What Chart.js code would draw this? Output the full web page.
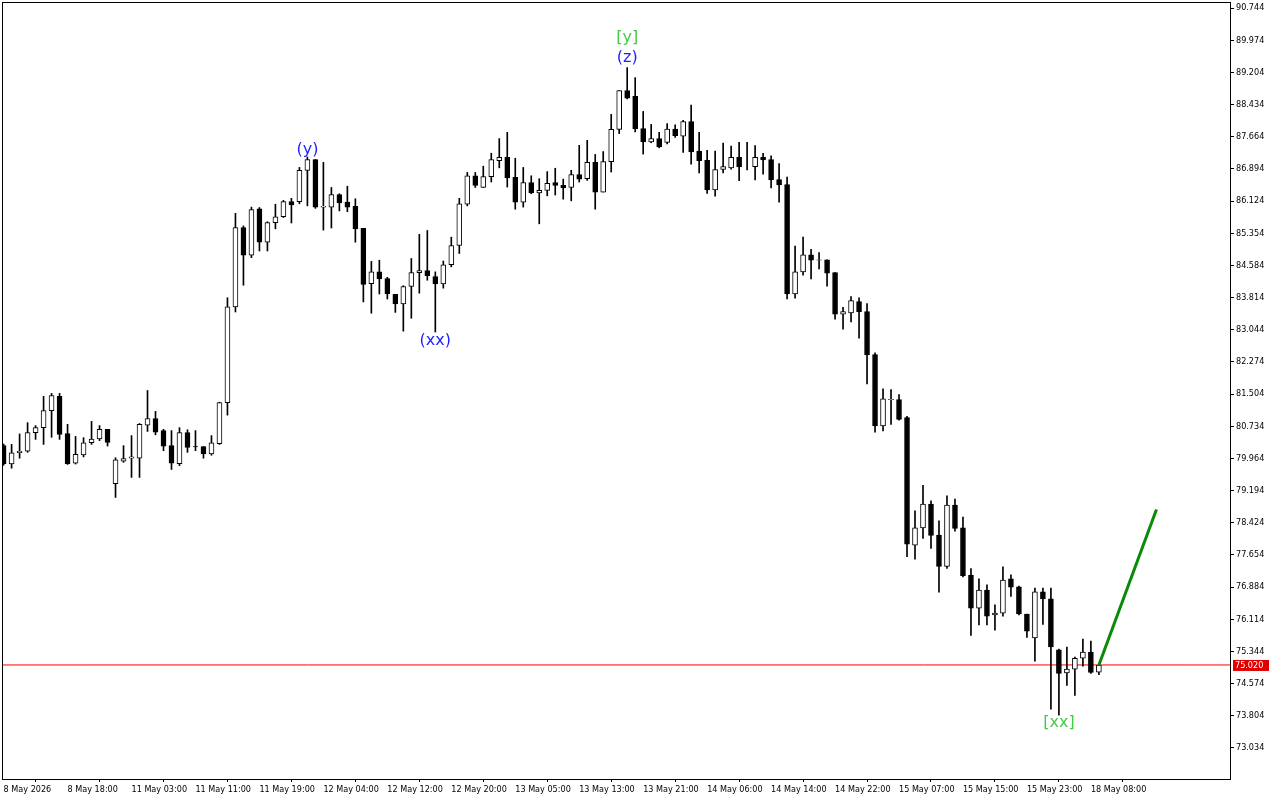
<!DOCTYPE html>
<html>
<head>
<meta charset="utf-8">
<script src="https://cdn.jsdelivr.net/npm/chart.js@4"></script>
<style>
  html, body { margin: 0; padding: 0; background: #fff; }
  canvas { display: block; }
</style>
</head>
<body>
<canvas id="grafico" width="1280" height="800"></canvas>
<script>
// hourly candles, open / high / low / close
const abertura = [80.27,79.83,80.10,80.14,80.58,80.70,81.11,81.45,80.56,79.85,80.05,80.34,80.43,80.66,79.36,79.90,79.97,79.97,80.76,80.92,
  80.63,80.27,79.84,80.58,80.25,80.25,80.07,80.32,81.30,83.59,85.49,84.83,85.94,85.14,85.61,85.75,86.11,86.11,86.86,87.12,
  85.98,85.98,86.28,86.10,86.00,85.47,84.15,84.43,84.27,83.89,83.66,84.08,84.41,84.46,84.32,84.14,84.60,85.06,86.05,86.73,
  86.45,86.71,87.09,87.17,86.69,86.10,86.57,86.32,86.38,86.57,86.50,86.45,86.76,86.66,87.05,86.34,87.07,87.84,88.77,88.63,
  87.86,87.54,87.62,87.53,87.85,87.68,88.03,87.32,87.10,86.39,86.88,86.92,87.17,86.95,86.95,87.17,87.12,86.64,86.52,83.90,
  84.43,84.84,84.71,84.72,84.41,83.42,83.45,83.72,83.48,82.45,80.74,81.37,81.37,80.94,77.89,78.30,78.87,78.13,77.38,78.85,
  78.30,77.17,76.38,76.81,76.22,76.26,77.08,76.89,76.24,75.67,76.77,76.60,75.38,74.83,74.92,75.18,75.33,74.85];
const maxima = [80.31,80.30,80.55,80.82,80.75,81.45,81.52,81.52,80.78,80.49,80.46,80.85,80.75,80.66,79.98,80.27,80.51,80.80,81.59,81.09,
  80.66,80.63,80.70,80.65,80.63,80.25,80.51,81.31,83.81,85.83,85.53,85.98,85.97,85.63,86.05,86.14,86.19,86.93,87.18,87.12,
  87.05,86.45,86.30,86.48,86.18,85.47,84.68,84.71,84.30,83.89,84.10,84.75,85.33,85.42,84.43,84.69,85.26,86.19,86.81,86.81,
  86.96,87.27,87.62,87.77,87.15,86.93,86.73,86.66,86.83,86.91,86.65,86.86,87.46,87.58,87.24,87.31,88.20,88.77,89.32,89.08,
  88.27,87.96,87.77,87.98,87.95,88.06,88.42,87.77,87.34,87.32,87.51,87.44,87.53,87.53,87.45,87.27,87.21,87.02,86.70,85.05,
  85.26,84.97,84.89,84.72,84.41,83.58,83.84,83.81,83.67,82.49,81.63,81.61,81.49,80.97,78.71,79.32,78.95,78.47,79.07,78.99,
  78.56,77.33,77.08,76.94,76.46,77.37,77.18,76.91,76.24,76.86,76.86,76.86,75.40,75.45,75.21,75.64,75.59,75.04];
const minimas = [79.80,79.73,79.97,80.11,80.42,80.30,80.47,80.42,79.82,79.83,80.00,80.30,80.39,80.26,79.03,79.87,79.51,79.51,80.61,80.53,
  80.15,79.70,79.79,80.11,80.15,79.97,80.04,80.30,81.00,83.47,84.11,84.77,84.93,84.93,85.46,85.73,85.60,86.06,86.01,85.95,
  85.43,85.48,85.89,85.87,85.14,83.71,83.44,83.90,83.78,83.46,83.01,83.32,83.92,84.23,82.99,84.04,84.55,84.87,86.01,86.45,
  86.45,86.58,86.92,86.46,85.93,85.98,86.30,85.58,86.25,86.27,86.17,86.13,86.58,86.62,85.93,86.34,86.82,87.74,88.57,87.78,
  87.25,87.52,87.40,87.49,87.65,87.29,87.01,86.80,86.31,86.24,86.80,86.89,86.61,86.87,86.63,86.77,86.44,86.10,83.78,83.80,
  84.35,84.26,84.50,84.09,83.30,83.06,83.23,82.84,81.75,80.59,80.62,80.78,80.88,77.61,77.55,78.05,77.81,76.76,77.33,78.22,
  77.13,75.73,75.98,75.98,75.85,76.19,76.66,76.22,75.68,75.11,75.99,73.96,73.82,74.53,74.29,74.99,74.82,74.79];
const fechamento = [79.84,80.10,80.14,80.58,80.70,81.11,81.47,80.54,79.84,80.06,80.34,80.43,80.66,80.35,79.93,79.96,80.00,80.78,80.92,80.59,
  80.26,79.85,80.58,80.23,80.24,80.07,80.34,81.30,83.59,85.49,84.83,85.92,85.14,85.61,85.75,86.11,86.03,86.86,87.12,85.98,
  86.00,86.28,86.08,85.98,85.46,84.13,84.43,84.26,83.90,83.66,84.08,84.41,84.46,84.34,84.14,84.60,85.06,86.06,86.73,86.50,
  86.71,87.12,87.17,86.68,86.10,86.57,86.32,86.38,86.55,86.50,86.44,86.76,86.65,87.05,86.34,87.07,87.84,88.77,88.59,87.85,
  87.54,87.62,87.42,87.85,87.69,88.03,87.30,87.09,86.39,86.88,86.95,87.17,86.94,86.95,87.17,87.11,86.63,86.51,83.90,84.43,
  84.84,84.71,84.72,84.40,83.42,83.48,83.74,83.48,82.44,80.74,81.39,81.38,80.90,77.91,78.30,78.87,78.12,77.38,78.85,78.29,
  77.16,76.38,76.81,76.19,76.26,77.05,76.88,76.24,75.83,76.77,76.60,75.45,74.82,74.92,75.18,75.33,74.84,75.02];

const rotulosTempo = ['8 May 2026','8 May 18:00','11 May 03:00','11 May 11:00','11 May 19:00','12 May 04:00','12 May 12:00',
  '12 May 20:00','13 May 05:00','13 May 13:00','13 May 21:00','14 May 06:00','14 May 14:00','14 May 22:00','15 May 07:00',
  '15 May 15:00','15 May 23:00','18 May 08:00'];
const passoRotulo = 8;

const ticksPreco = [73.034,73.804,74.574,75.344,76.114,76.884,77.654,78.424,79.194,79.964,80.734,81.504,82.274,83.044,
  83.814,84.584,85.354,86.124,86.894,87.664,88.434,89.204,89.974,90.744];

const precoAtual = 75.020;
// projected wave line: [candle index, price]
const projecao = [[137, 75.02], [144.2, 78.74]];
// wave marks: candle index, price, text, colour
const ondas = [
  { idx: 38, preco: 87.35, texto: '(y)', cor: '#1f1fff' },
  { idx: 54, preco: 82.79, texto: '(xx)', cor: '#1f1fff' },
  { idx: 78, preco: 89.55, texto: '(z)', cor: '#1f1fff' },
  { idx: 78, preco: 90.03, texto: '[y]', cor: '#44cc44' },
  { idx: 132, preco: 73.64, texto: '[xx]', cor: '#44cc44' }
];

const corpos = abertura.map((o, i) => ({ x: i, y: [o, fechamento[i]] }));
const pavios = minimas.map((l, i) => ({ x: i, y: [l, maxima[i]] }));

const fonteEixo = { size: 9, family: '"DejaVu Sans Condensed", "DejaVu Sans"' };

const molduraPlugin = {
  id: 'moldura',
  afterDraw(chart) {
    const { ctx, chartArea: a, scales } = chart;
    ctx.save();
    ctx.strokeStyle = '#000';
    ctx.lineWidth = 1;
    ctx.strokeRect(a.left + 0.5, a.top + 0.5, a.right - a.left, a.bottom - a.top);

    // wave labels
    ctx.font = '16px "DejaVu Sans"';
    ctx.textAlign = 'center';
    ctx.textBaseline = 'middle';
    ondas.forEach(o => {
      ctx.fillStyle = o.cor;
      ctx.fillText(o.texto, scales.x.getPixelForValue(o.idx), scales.y.getPixelForValue(o.preco));
    });

    // current price tag
    const y = scales.y.getPixelForValue(precoAtual);
    ctx.fillStyle = '#e00000';
    ctx.fillRect(a.right + 3, y - 5, 36, 11);
    ctx.fillStyle = '#fff';
    ctx.font = '9px "DejaVu Sans Condensed", "DejaVu Sans"';
    ctx.textAlign = 'left';
    ctx.fillText(precoAtual.toFixed(3), a.right + 5, y + 0.5);
    ctx.restore();
  }
};

new Chart(document.getElementById('grafico'), {
  type: 'bar',
  data: {
    datasets: [
      {
        type: 'line',
        data: [{ x: -5, y: precoAtual }, { x: 200, y: precoAtual }],
        borderColor: '#ff0000',
        borderWidth: 1,
        pointRadius: 0,
        order: 3
      },
      {
        type: 'line',
        data: projecao.map(p => ({ x: p[0], y: p[1] })),
        borderColor: '#0a8a0a',
        borderWidth: 3,
        pointRadius: 0,
        order: 0
      },
      {
        data: corpos,
        backgroundColor: ctx => {
          const i = ctx.dataIndex;
          return fechamento[i] >= abertura[i] ? '#fff' : '#000';
        },
        borderColor: '#000',
        borderWidth: 1,
        borderSkipped: false,
        barThickness: 5,
        grouped: false,
        order: 1
      },
      {
        data: pavios,
        backgroundColor: '#000',
        borderWidth: 0,
        barThickness: 1,
        grouped: false,
        order: 2
      }
    ]
  },
  options: {
    responsive: false,
    animation: false,
    layout: { padding: { left: 2, top: 2, right: 0, bottom: 0 } },
    plugins: { legend: { display: false }, tooltip: { enabled: false } },
    scales: {
      x: {
        type: 'linear',
        min: -0.2,
        max: 153.4,
        offset: false,
        afterBuildTicks: s => { s.ticks = rotulosTempo.map((_, k) => ({ value: k * passoRotulo })); },
        afterFit: s => { s.height = 21; s.paddingLeft = 0; s.paddingRight = 0; },
        ticks: {
          align: 'start',
          maxRotation: 0,
          autoSkip: false,
          padding: 2,
          color: '#000',
          font: fonteEixo,
          callback: (v, k) => rotulosTempo[k]
        },
        grid: { drawOnChartArea: false, tickLength: 3, color: '#000' },
        border: { color: '#000' }
      },
      y: {
        position: 'right',
        min: 72.29,
        max: 90.89,
        afterBuildTicks: s => { s.ticks = ticksPreco.map(v => ({ value: v })); },
        afterFit: s => { s.width = 50; s.paddingTop = 0; s.paddingBottom = 0; },
        ticks: {
          padding: 2,
          color: '#000',
          font: fonteEixo,
          callback: v => v.toFixed(3)
        },
        grid: { drawOnChartArea: false, tickLength: 4, color: '#000' },
        border: { color: '#000' }
      }
    }
  },
  plugins: [molduraPlugin]
});
</script>
</body>
</html>
